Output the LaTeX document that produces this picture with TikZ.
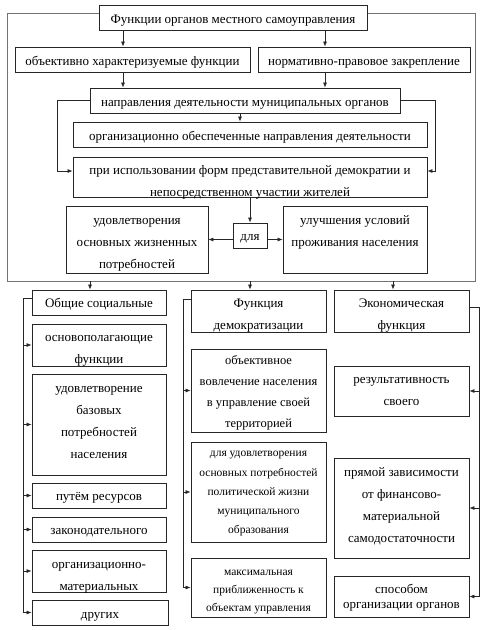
\documentclass[tikz,border=0pt]{standalone}
\usepackage{fontspec}
\setmainfont{Liberation Serif}
\usetikzlibrary{arrows.meta,calc}
% #1 = raise of the text block (pt), #2 = lines
\newcommand{\tx}[2]{\raisebox{\dimexpr#1pt-2pt\relax}[0pt][0pt]{\begin{tabular}{@{}c@{}}#2\end{tabular}}}
\begin{document}
\begin{tikzpicture}[x=1pt,y=-1pt,
  box/.style={draw=black!85, line width=0.8pt, fill=white, inner sep=0pt, font=\fontsize{13}{22}\selectfont},
  frame/.style={draw=black!55, line width=0.9pt, inner sep=0pt},
  arr/.style={-{Latex[length=5pt,width=4pt]}, line width=0.7pt, draw=black!85},
  ln/.style={line width=0.7pt, draw=black!85}]
\useasboundingbox (0,0) rectangle (482,630);
% outer frame
\node[frame, minimum width=468pt, minimum height=268pt] (frame) at (241,147) {};
% top part
\node[box, minimum width=268pt, minimum height=25pt] (title) at (233,17.5) {\tx{-2.85}{Функции органов местного самоуправления}};
\node[box, minimum width=235pt, minimum height=25pt] (obj) at (132.5,59.5) {\tx{-2.35}{объективно характеризуемые функции}};
\node[box, minimum width=212pt, minimum height=25pt] (norm) at (364,59.5) {\tx{-2.35}{нормативно-правовое закрепление}};
\node[box, minimum width=310pt, minimum height=25pt] (napr) at (245,100.5) {\tx{-2.15}{направления деятельности муниципальных органов}};
\node[box, minimum width=354pt, minimum height=25pt] (org) at (250,134.5) {\tx{-2.35}{организационно обеспеченные направления деятельности}};
\node[box, minimum width=354pt, minimum height=40pt] (pri) at (250,177) {\tx{-5.25}{при использовании форм представительной демократии и\\непосредственном участии жителей}};
\node[box, minimum width=34pt, minimum height=25pt] (dlya) at (250,235.5) {\tx{-1.35}{для}};
\node[box, minimum width=142pt, minimum height=67pt] (udov) at (137,239.5) {\tx{-3.25}{удовлетворения\\основных жизненных\\потребностей}};
\node[box, minimum width=144pt, minimum height=67pt] (uluch) at (355,239.5) {\tx{7.65}{улучшения условий\\проживания населения}};
\draw[arr] (title.south -| 123,0) -- (obj.north -| 123,0);
\draw[arr] (title.south -| 325,0) -- (norm.north -| 325,0);
\draw[arr] (obj.south -| 123,0) -- (napr.north -| 123,0);
\draw[arr] (norm.south -| 325,0) -- (napr.north -| 325,0);
\draw[arr] (napr.south -| 240,0) -- (org.north -| 240,0);
\draw[arr] (napr.west) -- (57,0 |- napr.west) |- ([yshift=6pt]pri.west);
\draw[arr] (napr.east) -- (435,0 |- napr.east) |- ([yshift=6pt]pri.east);
\draw[arr] (pri.south) -- (dlya.north);
\draw[arr] ([yshift=-4pt]dlya.west) -- ([yshift=-4pt]dlya.west -| udov.east);
\draw[arr] ([yshift=-4pt]dlya.east) -- ([yshift=-4pt]dlya.east -| uluch.west);
% left column
\node[box, minimum width=134pt, minimum height=25pt] (L0) at (99,302.5) {\tx{-1.85}{Общие социальные}};
\node[box, minimum width=134pt, minimum height=42pt] (L1) at (99,345) {\tx{-4.15}{основополагающие\\функции}};
\node[box, minimum width=134pt, minimum height=101pt] (L2) at (99,424.5) {\tx{2.65}{удовлетворение\\базовых\\потребностей\\населения}};
\node[box, minimum width=134pt, minimum height=25pt] (L3) at (99,495.5) {\tx{-1.85}{путём ресурсов}};
\node[box, minimum width=134pt, minimum height=25pt] (L4) at (99,529.5) {\tx{-1.35}{законодательного}};
\node[box, minimum width=134pt, minimum height=42pt] (L5) at (99,571) {\tx{-4.65}{организационно-\\материальных}};
\node[box, minimum width=136pt, minimum height=25pt] (L6) at (100,612.5) {\tx{-2.65}{других}};
% middle column
\node[box, minimum width=135pt, minimum height=42pt] (M0) at (258.5,311) {\tx{-4.15}{Функция\\демократизации}};
\node[box, minimum width=135pt, minimum height=83pt, font=\fontsize{12.5}{21}\selectfont] (M1) at (258.5,390.5) {\tx{-2.7}{объективное\\вовлечение населения\\в управление своей\\территорией}};
\node[box, minimum width=135pt, minimum height=100pt, font=\fontsize{11.5}{19.25}\selectfont] (M2) at (258.5,492) {\tx{-0.45}{для удовлетворения\\основных потребностей\\политической жизни\\муниципального\\образования}};
\node[box, minimum width=135pt, minimum height=59pt, font=\fontsize{11.5}{18.3}\selectfont] (M3) at (258.5,587.5) {\tx{-3.14}{максимальная\\приближенность к\\объектам управления}};
% right column
\node[box, minimum width=135pt, minimum height=42pt] (R0) at (401.5,311) {\tx{-4.15}{Экономическая\\функция}};
\node[box, minimum width=135pt, minimum height=50pt] (R1) at (401.5,391) {\tx{0.35}{результативность\\своего}};
\node[box, minimum width=135pt, minimum height=100pt] (R2) at (401.5,508) {\tx{2.15}{прямой зависимости\\от финансово-\\материальной\\самодостаточности}};
\node[box, minimum width=135pt, minimum height=41pt, font=\fontsize{13}{15}\selectfont] (R3) at (401.5,596.5) {\tx{-2.55}{способом\\организации органов}};
% arrows from frame
\draw[arr] (frame.south -| 90,0) -- (L0.north -| 90,0);
\draw[arr] (frame.south -| 250,0) -- (M0.north -| 250,0);
\draw[arr] (frame.south -| 393,0) -- (R0.north -| 393,0);
% left bracket
\draw[ln] ([yshift=4pt]L0.west) -| (23,0 |- L6.west);
\foreach \n in {L1,L2,L3,L4,L5,L6} \draw[arr] (23,0 |- \n.west) -- (\n.west);
% middle bracket
\draw[ln] ([yshift=12pt]M0.west) -| (183,0 |- M3.west);
\foreach \n in {M1,M2,M3} \draw[arr] (183,0 |- \n.west) -- (\n.west);
% right bracket
\draw[ln] ([yshift=4pt]R0.east) -| (479,0 |- R3.east);
\foreach \n in {R1,R2,R3} \draw[arr] (479,0 |- \n.east) -- (\n.east);
\end{tikzpicture}
\end{document}
